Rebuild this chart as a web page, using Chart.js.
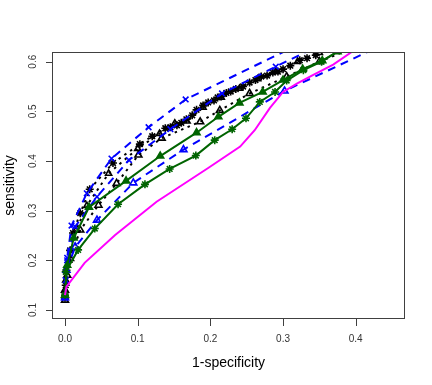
<!DOCTYPE html>
<html>
<head>
<meta charset="utf-8">
<script src="https://cdn.jsdelivr.net/npm/chart.js@4/dist/chart.umd.min.js"></script>
<style>
html,body{margin:0;padding:0;background:#fff;}
canvas{display:block;}
</style>
</head>
<body>
<canvas id="c" width="432" height="385"></canvas>
<script>
// ---- data (1-specificity, sensitivity) ----
const xTicks = [0.0, 0.1, 0.2, 0.3, 0.4];
const yTicks = [0.1, 0.2, 0.3, 0.4, 0.5, 0.6];

const magentaX = [0, 0.002, 0.027, 0.069, 0.126, 0.197, 0.241, 0.261, 0.282, 0.300, 0.319, 0.341, 0.369, 0.394, 0.42];
const magentaY = [0.13, 0.147, 0.195, 0.251, 0.318, 0.386, 0.429, 0.462, 0.507, 0.539, 0.556, 0.573, 0.594, 0.619, 0.64];

const greenStarX = [0, 0.001, 0.018, 0.041, 0.073, 0.110, 0.144, 0.180, 0.206, 0.230, 0.249, 0.268, 0.289, 0.305, 0.328, 0.353, 0.38];
const greenStarY = [0.13, 0.177, 0.221, 0.264, 0.313, 0.353, 0.384, 0.411, 0.442, 0.464, 0.486, 0.519, 0.539, 0.562, 0.583, 0.600, 0.625];

const greenTriX = [0, 0.003, 0.012, 0.033, 0.084, 0.131, 0.181, 0.211, 0.240, 0.272, 0.300, 0.327, 0.354, 0.375];
const greenTriY = [0.13, 0.19, 0.245, 0.307, 0.360, 0.410, 0.457, 0.489, 0.517, 0.539, 0.563, 0.585, 0.602, 0.62];

const blueXUpperX = [0, 0.001, 0.003, 0.009, 0.030, 0.064, 0.115, 0.166, 0.35];
const blueXUpperY = [0.125, 0.16, 0.205, 0.27, 0.335, 0.405, 0.468, 0.524, 0.655];

const blueXMidX = [0, 0.003, 0.014, 0.044, 0.088, 0.145, 0.216, 0.29, 0.36];
const blueXMidY = [0.125, 0.20, 0.268, 0.328, 0.402, 0.464, 0.536, 0.59, 0.64];

const blueTriX = [0, 0.002, 0.014, 0.044, 0.094, 0.163, 0.302, 0.45];
const blueTriY = [0.125, 0.18, 0.227, 0.281, 0.356, 0.423, 0.541, 0.643];

const blackStarX = [0, 0, 0.001, 0.002, 0.007, 0.011, 0.021, 0.034, 0.066, 0.103, 0.120, 0.138, 0.145, 0.154, 0.160, 0.167, 0.175, 0.181, 0.190, 0.197, 0.205, 0.210, 0.215, 0.222, 0.228, 0.235, 0.245, 0.254, 0.262, 0.270, 0.278, 0.286, 0.293, 0.300, 0.310, 0.323, 0.333, 0.345, 0.37];
const blackStarY = [0.125, 0.135, 0.15, 0.18, 0.22, 0.255, 0.295, 0.343, 0.396, 0.434, 0.450, 0.466, 0.468, 0.472, 0.477, 0.484, 0.492, 0.503, 0.512, 0.518, 0.522, 0.528, 0.530, 0.537, 0.540, 0.545, 0.550, 0.558, 0.563, 0.570, 0.572, 0.578, 0.580, 0.585, 0.592, 0.603, 0.607, 0.613, 0.63];

const blackTriX = [0, 0, 0.003, 0.007, 0.021, 0.046, 0.071, 0.101, 0.133, 0.186, 0.213, 0.254, 0.305, 0.35, 0.40];
const blackTriY = [0.12, 0.14, 0.17, 0.204, 0.261, 0.311, 0.355, 0.412, 0.446, 0.479, 0.502, 0.536, 0.570, 0.60, 0.63];

const blackTri2X = [0, 0.001, 0.005, 0.015, 0.030, 0.060, 0.100, 0.130, 0.151, 0.168, 0.190, 0.215, 0.240, 0.265, 0.290, 0.320, 0.350];
const blackTri2Y = [0.128, 0.16, 0.20, 0.26, 0.31, 0.375, 0.425, 0.455, 0.476, 0.480, 0.508, 0.528, 0.546, 0.565, 0.580, 0.600, 0.618];

const pts = (xs, ys) => xs.map((v, i) => ({x: v, y: ys[i]}));

function series(xs, ys, color, dash, style, fill, r) {
  return {
    data: pts(xs, ys),
    borderColor: color,
    borderWidth: 2,
    borderDash: dash,
    borderCapStyle: 'butt',
    pointStyle: style || 'circle',
    pointRadius: style ? (r || 4) : 0,
    pointHoverRadius: 0,
    pointBorderWidth: 1.6,
    pointBorderColor: color,
    pointBackgroundColor: fill ? color : 'rgba(0,0,0,0)',
    tension: 0,
    fill: false
  };
}

const datasets = [
  series(magentaX, magentaY, '#ff00ff', [], null, false),
  series(greenStarX, greenStarY, '#006400', [], 'star', false),
  series(greenTriX, greenTriY, '#006400', [], 'triangle', true),
  series(blueTriX, blueTriY, '#0000ff', [8, 6], 'triangle', false),
  series(blueXMidX, blueXMidY, '#0000ff', [8, 6], 'crossRot', false),
  series(blueXUpperX, blueXUpperY, '#0000ff', [8, 6], 'crossRot', false),
  series(blackTriX, blackTriY, '#000000', [2.5, 4.5], 'triangle', false),
  series(blackTri2X, blackTri2Y, '#000000', [2.5, 4.5], 'triangle', false, 3.5),
  series(blackStarX, blackStarY, '#000000', [2.5, 4.5], 'star', false)
];

const rAxes = {
  id: 'rAxes',
  afterDatasetsDraw(chart) {
    const ctx = chart.ctx, a = chart.chartArea;
    const xs = chart.scales.x, ys = chart.scales.y;
    ctx.save();
    ctx.setLineDash([]);
    ctx.strokeStyle = '#404040';
    ctx.lineWidth = 1;
    ctx.strokeRect(a.left + 0.5, a.top + 0.5, a.right - a.left - 1, a.bottom - a.top - 1);
    ctx.fillStyle = '#333';
    ctx.font = '10px "Liberation Sans", Arial, sans-serif';
    // x axis
    ctx.beginPath();
    const x0 = Math.round(xs.getPixelForValue(xTicks[0])) + 0.5;
    const x1 = Math.round(xs.getPixelForValue(xTicks[xTicks.length - 1])) + 0.5;
    ctx.moveTo(x0, a.bottom - 0.5); ctx.lineTo(x1, a.bottom - 0.5);
    xTicks.forEach(v => {
      const px = Math.round(xs.getPixelForValue(v)) + 0.5;
      ctx.moveTo(px, a.bottom - 0.5); ctx.lineTo(px, a.bottom + 7);
    });
    ctx.stroke();
    ctx.textAlign = 'center'; ctx.textBaseline = 'middle';
    xTicks.forEach(v => ctx.fillText(v.toFixed(1), xs.getPixelForValue(v), a.bottom + 20));
    // y axis
    ctx.beginPath();
    const y0 = Math.round(ys.getPixelForValue(yTicks[0])) + 0.5;
    const y1 = Math.round(ys.getPixelForValue(yTicks[yTicks.length - 1])) + 0.5;
    ctx.moveTo(a.left + 0.5, y0); ctx.lineTo(a.left + 0.5, y1);
    yTicks.forEach(v => {
      const py = Math.round(ys.getPixelForValue(v)) + 0.5;
      ctx.moveTo(a.left + 0.5, py); ctx.lineTo(a.left - 6, py);
    });
    ctx.stroke();
    yTicks.forEach(v => {
      ctx.save();
      ctx.translate(a.left - 19, ys.getPixelForValue(v));
      ctx.rotate(-Math.PI / 2);
      ctx.fillText(v.toFixed(1), 0, 0);
      ctx.restore();
    });
    // titles
    ctx.fillStyle = '#000';
    ctx.font = '14px "Liberation Sans", Arial, sans-serif';
    ctx.fillText('1-specificity', (a.left + a.right) / 2, a.bottom + 44);
    ctx.save();
    ctx.translate(10, (a.top + a.bottom) / 2);
    ctx.rotate(-Math.PI / 2);
    ctx.fillText('sensitivity', 0, 0);
    ctx.restore();
    ctx.restore();
  }
};

new Chart(document.getElementById('c'), {
  type: 'line',
  data: {datasets},
  options: {
    responsive: false,
    devicePixelRatio: 1,
    animation: false,
    events: [],
    layout: {padding: {left: 52, top: 52, right: 27, bottom: 66}},
    plugins: {legend: {display: false}, tooltip: {enabled: false}},
    scales: {
      x: {type: 'linear', min: -0.0179, max: 0.4678, display: false},
      y: {type: 'linear', min: 0.0819, max: 0.6195, display: false}
    }
  },
  plugins: [rAxes]
});
</script>
</body>
</html>
